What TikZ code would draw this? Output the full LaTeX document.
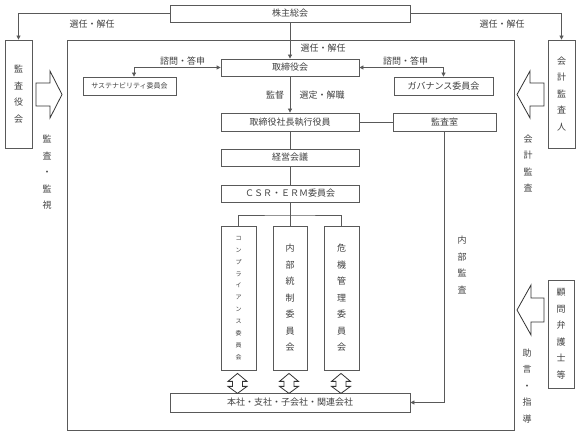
\documentclass[tikz,border=0pt]{standalone}
\usepackage{fontspec}
\setmainfont{Noto Sans CJK JP}
\usetikzlibrary{arrows.meta}
\begin{document}
\begin{tikzpicture}[x=1pt,y=-1pt,
 box/.style={draw=black!65, line width=0.8pt, fill=white, inner sep=0pt, text=black!75, font=\fontsize{9}{11}\selectfont},
 vbox/.style={box, align=center, font=\fontsize{9}{16.5}\selectfont},
 lbl/.style={text=black!75, font=\fontsize{9}{11}\selectfont, inner sep=0pt},
 vlbl/.style={lbl, align=center, font=\fontsize{9}{16.5}\selectfont},
 conn/.style={draw=black!65, line width=0.8pt},
 arr/.style={conn, -{Triangle[length=4pt,width=4pt]}},
 arrs/.style={conn, {Triangle[length=4pt,width=4pt]}-{Triangle[length=4pt,width=4pt]}},
 hollow/.style={draw=black!80, line width=0.8pt, fill=white, line join=miter},
 dbl/.pic={\draw[hollow] (0,0) -- (9.5,8) -- (5,8) -- (5,13) -- (9.5,13) -- (0,20) -- (-9.5,13) -- (-5,13) -- (-5,8) -- (-9.5,8) -- cycle;}
]
\useasboundingbox (0,0) rectangle (579,435);
% outer frame
\draw[conn] (67,40) rectangle (514,430);
% boxes
\node[box, minimum width=240pt, minimum height=17pt] (kabu) at (290,13.5) {株主総会};
\node[vbox, minimum width=27pt, minimum height=108pt] (kansayaku) at (18.5,94) {監\\査\\役\\会};
\node[vbox, minimum width=27pt, minimum height=108pt] (kaikei) at (561.5,94) {会\\計\\監\\査\\人};
\node[box, minimum width=138pt, minimum height=17pt] (tori) at (290,67.5) {取締役会};
\node[box, minimum width=93pt, minimum height=18pt, font=\fontsize{7}{9}\selectfont] (sus) at (129.5,86) {サステナビリティ委員会};
\node[box, minimum width=99pt, minimum height=18pt] (gov) at (443.5,86) {ガバナンス委員会};
\node[box, minimum width=138pt, minimum height=18pt] (shacho) at (290,122) {取締役社長執行役員};
\node[box, minimum width=103pt, minimum height=18pt] (kansa) at (444.5,122) {監査室};
\node[box, minimum width=138pt, minimum height=17pt] (keiei) at (290,157.5) {経営会議};
\node[box, minimum width=138pt, minimum height=17pt] (csr) at (290,193.5) {ＣＳＲ・ＥＲＭ委員会};
\node[vbox, minimum width=35pt, minimum height=144pt, font=\fontsize{6}{11.9}\selectfont] (comp) at (238.5,298) {コ\\ン\\プ\\ラ\\イ\\ア\\ン\\ス\\委\\員\\会};
\node[vbox, minimum width=34pt, minimum height=144pt] (naibu) at (290,298) {内\\部\\統\\制\\委\\員\\会};
\node[vbox, minimum width=35pt, minimum height=144pt] (kiki) at (341.5,298) {危\\機\\管\\理\\委\\員\\会};
\node[box, minimum width=240pt, minimum height=19pt] (honsha) at (290,402.5) {本社・支社・子会社・関連会社};
\node[vbox, minimum width=26pt, minimum height=108pt] (komon) at (561,334) {顧\\問\\弁\\護\\士\\等};
% connectors
\draw[arr] (kabu.west) -| (kansayaku.north);
\draw[arr] (kabu.east) -| (kaikei.north);
\draw[arr] (kabu.south) -- (tori.north);
\draw[arrs] (tori.west) -| ([xshift=4.5pt]sus.north);
\draw[arrs] (tori.east) -| (gov.north);
\draw[arr] (tori.south) -- (shacho.north);
\draw[conn] (shacho.east) -- (kansa.west);
\draw[conn] (shacho.south) -- (keiei.north);
\draw[conn] (keiei.south) -- (csr.north);
\draw[conn] (csr.south) -- (naibu.north);
\coordinate (j) at (290,215);
\draw[conn] (comp.north) |- (j) -| (kiki.north);
\draw[arr] (kansa.south) |- (honsha.east);
% hollow arrows
\draw[hollow] (36,83) -- (50,83) -- (50,71) -- (62,94.5) -- (50,118) -- (50,106) -- (36,106) -- cycle;
\draw[hollow] (544,83) -- (530,83) -- (530,71) -- (517,94.5) -- (530,118) -- (530,106) -- (544,106) -- cycle;
\draw[hollow] (544,298) -- (531,298) -- (531,285) -- (517,310) -- (531,335) -- (531,322) -- (544,322) -- cycle;
\path (comp.south) ++(-1,3) pic {dbl};
\path (naibu.south) ++(-1,3) pic {dbl};
\path (kiki.south) ++(-0.5,3) pic {dbl};
% labels
\node[lbl] (l1) at (92,24.5) {選任・解任};
\node[lbl] (l2) at (502,24.5) {選任・解任};
\node[lbl] (l3) at (323,48) {選任・解任};
\node[lbl] (l4) at (182.5,61) {諮問・答申};
\node[lbl] (l5) at (405.5,61) {諮問・答申};
\node[lbl] (l6) at (275,95) {監督};
\node[lbl] (l7) at (322,95) {選定・解職};
\node[vlbl] (l8) at (47,172.5) {監\\査\\・\\監\\視};
\node[vlbl] (l9) at (528,163.5) {会\\計\\監\\査};
\node[vlbl] (l10) at (462,265) {内\\部\\監\\査};
\node[vlbl] (l11) at (527,386) {助\\言\\・\\指\\導};
\end{tikzpicture}
\end{document}
